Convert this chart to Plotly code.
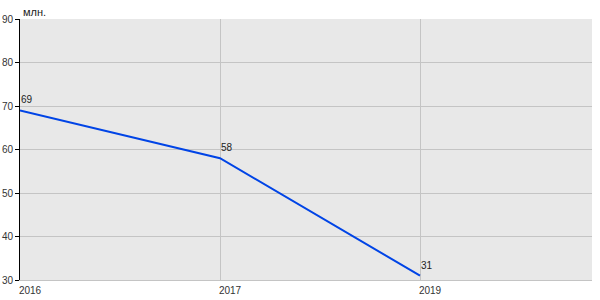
import plotly.graph_objects as go

years = ["2016", "2017", "2019"]
values = [69, 58, 31]
labels = ["69", "58", "31"]
unit = "млн."

fig = go.Figure()
fig.add_trace(go.Scatter(
    x=years, y=values, mode="lines",
    line=dict(color="#0044e6", width=2),
    hoverinfo="skip",
))

annotations = [dict(text=unit, xref="paper", yref="paper", x=0, y=1, xanchor="left",
                    yanchor="bottom", xshift=1, yshift=-1, showarrow=False,
                    font=dict(size=11, color="#222"))]
for i, (yv, t) in enumerate(zip(values, labels)):
    annotations.append(dict(x=i, y=yv, text=t, xref="x", yref="y", xanchor="left",
                            yanchor="bottom", xshift=-1, yshift=3, showarrow=False,
                            font=dict(size=10, color="#222")))

fig.update_layout(
    width=600, height=300,
    margin=dict(l=20, r=8, t=19, b=20),
    paper_bgcolor="white", plot_bgcolor="#e8e8e8",
    showlegend=False,
    font=dict(family="Arial, Liberation Sans", size=10, color="#333"),
    xaxis=dict(type="category", range=[0, 2.86], showgrid=True, gridcolor="#c4c4c4",
               gridwidth=1, showline=True, linecolor="#c4c4c4", linewidth=1,
               ticks="", ticklabelshift=10, ticklabelstandoff=1,
               tickfont=dict(size=10, color="#333"), automargin=False,
               zeroline=False, fixedrange=True),
    yaxis=dict(range=[30, 90], dtick=10, showgrid=True, gridcolor="#c4c4c4", gridwidth=1,
               showline=True, linecolor="black", linewidth=1, ticks="outside",
               ticklen=4, tickcolor="black", tickfont=dict(size=10, color="#333"),
               automargin=False, zeroline=False, fixedrange=True),
    annotations=annotations,
)

fig.write_html("out.html")
